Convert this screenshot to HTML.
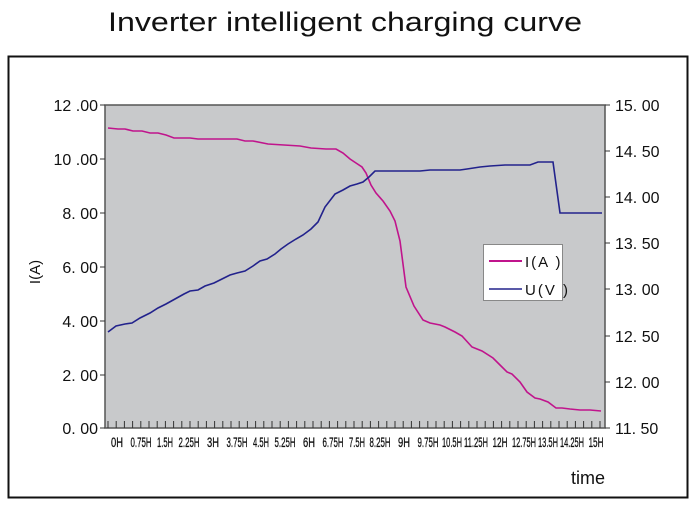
<!DOCTYPE html>
<html><head><meta charset="utf-8"><style>
body{margin:0;background:#fff;}
svg text{font-family:"Liberation Sans",sans-serif;fill:#111;}
</style></head><body>
<svg width="700" height="508" viewBox="0 0 700 508" xmlns="http://www.w3.org/2000/svg">
<text x="345" y="31" font-size="27" text-anchor="middle" textLength="474" lengthAdjust="spacingAndGlyphs">Inverter  intelligent charging curve</text>
<rect x="8.5" y="56.5" width="679" height="441" fill="#fff" stroke="#111" stroke-width="2"/>
<rect x="105" y="105" width="500" height="323" fill="#c8c9cb" stroke="#555" stroke-width="1.5"/>
<g stroke="#333" stroke-width="1">
<line x1="100" y1="105" x2="105" y2="105"/><line x1="100" y1="159" x2="105" y2="159"/><line x1="100" y1="213" x2="105" y2="213"/><line x1="100" y1="267" x2="105" y2="267"/><line x1="100" y1="321" x2="105" y2="321"/><line x1="100" y1="375" x2="105" y2="375"/><line x1="100" y1="428" x2="105" y2="428"/>
<line x1="605" y1="105" x2="610" y2="105"/><line x1="605" y1="151" x2="610" y2="151"/><line x1="605" y1="197" x2="610" y2="197"/><line x1="605" y1="243" x2="610" y2="243"/><line x1="605" y1="289" x2="610" y2="289"/><line x1="605" y1="336" x2="610" y2="336"/><line x1="605" y1="382" x2="610" y2="382"/><line x1="605" y1="428" x2="610" y2="428"/>
</g>
<path stroke="#333" stroke-width="1" fill="none" d="M108 421V428M116.2 421V428M124.4 421V428M132.6 421V428M140.8 421V428M149 421V428M157.2 421V428M165.4 421V428M173.6 421V428M181.8 421V428M190 421V428M198.2 421V428M206.4 421V428M214.6 421V428M222.8 421V428M231 421V428M239.2 421V428M247.4 421V428M255.6 421V428M263.8 421V428M272 421V428M280.2 421V428M288.4 421V428M296.6 421V428M304.8 421V428M313 421V428M321.2 421V428M329.4 421V428M337.6 421V428M345.8 421V428M354 421V428M362.2 421V428M370.4 421V428M378.6 421V428M386.8 421V428M395 421V428M403.2 421V428M411.4 421V428M419.6 421V428M427.8 421V428M436 421V428M444.2 421V428M452.4 421V428M460.6 421V428M468.8 421V428M477 421V428M485.2 421V428M493.4 421V428M501.6 421V428M509.8 421V428M518 421V428M526.2 421V428M534.4 421V428M542.6 421V428M550.8 421V428M559 421V428M567.2 421V428M575.4 421V428M583.6 421V428M591.8 421V428M600 421V428"/>
<g font-size="16" text-anchor="end">
<text x="98" y="111">12 .00</text><text x="98" y="165">10 .00</text><text x="98" y="219">8. 00</text><text x="98" y="273">6. 00</text><text x="98" y="327">4. 00</text><text x="98" y="381">2. 00</text><text x="98" y="434">0. 00</text>
</g>
<g font-size="16">
<text x="615" y="111">15. 00</text><text x="615" y="157">14. 50</text><text x="615" y="203">14. 00</text><text x="615" y="249">13. 50</text><text x="615" y="295">13. 00</text><text x="615" y="342">12. 50</text><text x="615" y="388">12. 00</text><text x="615" y="434">11. 50</text>
</g>
<text x="0" y="0" font-size="15" transform="translate(40,272) rotate(-90)" text-anchor="middle">I(A)</text>
<g font-size="14" text-anchor="middle" stroke="#111" stroke-width="0.3">
<text x="117" y="447" textLength="12" lengthAdjust="spacingAndGlyphs">0H</text>
<text x="141" y="447" textLength="21" lengthAdjust="spacingAndGlyphs">0.75H</text>
<text x="165" y="447" textLength="16" lengthAdjust="spacingAndGlyphs">1.5H</text>
<text x="189" y="447" textLength="21" lengthAdjust="spacingAndGlyphs">2.25H</text>
<text x="213" y="447" textLength="12" lengthAdjust="spacingAndGlyphs">3H</text>
<text x="237" y="447" textLength="21" lengthAdjust="spacingAndGlyphs">3.75H</text>
<text x="261" y="447" textLength="16" lengthAdjust="spacingAndGlyphs">4.5H</text>
<text x="285" y="447" textLength="21" lengthAdjust="spacingAndGlyphs">5.25H</text>
<text x="309" y="447" textLength="12" lengthAdjust="spacingAndGlyphs">6H</text>
<text x="333" y="447" textLength="21" lengthAdjust="spacingAndGlyphs">6.75H</text>
<text x="357" y="447" textLength="16" lengthAdjust="spacingAndGlyphs">7.5H</text>
<text x="380" y="447" textLength="21" lengthAdjust="spacingAndGlyphs">8.25H</text>
<text x="404" y="447" textLength="12" lengthAdjust="spacingAndGlyphs">9H</text>
<text x="428" y="447" textLength="21" lengthAdjust="spacingAndGlyphs">9.75H</text>
<text x="452" y="447" textLength="20" lengthAdjust="spacingAndGlyphs">10.5H</text>
<text x="476" y="447" textLength="24" lengthAdjust="spacingAndGlyphs">11.25H</text>
<text x="500" y="447" textLength="15" lengthAdjust="spacingAndGlyphs">12H</text>
<text x="524" y="447" textLength="24" lengthAdjust="spacingAndGlyphs">12.75H</text>
<text x="548" y="447" textLength="20" lengthAdjust="spacingAndGlyphs">13.5H</text>
<text x="572" y="447" textLength="24" lengthAdjust="spacingAndGlyphs">14.25H</text>
<text x="596" y="447" textLength="15" lengthAdjust="spacingAndGlyphs">15H</text>
</g>
<text x="605" y="484" font-size="18" text-anchor="end">time</text>
<polyline fill="none" stroke="#c0148c" stroke-width="1.6" points="108,128 118,129 125,129 133,131 142,131 150,133 158,133 166,135 174,138 190,138 198,139 237,139 245,141 253,141 268,144 284,145 300,146 311,148 326,149 336,149 343,153 350,159 356,163 362,167 366,173 371,185 376,193 383,201 390,211 395,221 400,241 406,287 414,306 423,320 430,323 440,325 445,327 455,332 462,336 472,347 482,351 493,358 500,365 507,372 512,374 520,382 527,392 535,398 540,399 548,402 556,408 562,408 570,409 580,410 590,410 601,411"/>
<polyline fill="none" stroke="#22228c" stroke-width="1.6" points="108,332 116,326 125,324 132,323 140,318 150,313 158,308 166,304 175,299 184,294 190,291 198,290 205,286 214,283 222,279 230,275 237,273 245,271 253,266 260,261 267,259 275,254 281,249 288,244 296,239 303,235 311,229 318,222 325,207 335,194 343,190 350,186 357,184 363,182 369,177 375,171 420,171 430,170 460,170 467,169 480,167 490,166 505,165 530,165 538,162 553,162 560,213 602,213"/>
<rect x="483.5" y="244.5" width="79" height="56" fill="#fff" stroke="#888"/>
<line x1="489" y1="261" x2="522" y2="261" stroke="#c0148c" stroke-width="2"/>
<line x1="489" y1="289" x2="522" y2="289" stroke="#22228c" stroke-width="1.6"/>
<text x="525" y="267" font-size="15" font-family="Liberation Serif" letter-spacing="2">I(A )</text>
<text x="525" y="295" font-size="15" font-family="Liberation Serif" letter-spacing="2">U(V )</text>
</svg>
</body></html>
